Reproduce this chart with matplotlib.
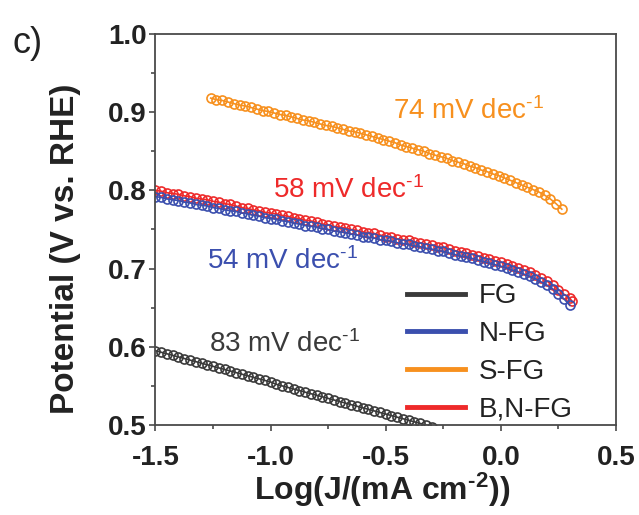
import matplotlib
matplotlib.use("Agg")
import matplotlib.pyplot as plt
from matplotlib.lines import Line2D
from matplotlib.ticker import MultipleLocator

plt.rcParams['font.family'] = ['Liberation Sans', 'DejaVu Sans']
plt.rcParams['mathtext.fontset'] = 'custom'
plt.rcParams['mathtext.rm'] = 'Liberation Sans'
plt.rcParams['mathtext.it'] = 'Liberation Sans:italic'
plt.rcParams['mathtext.bf'] = 'Liberation Sans:bold'

# ---------------- data ----------------
series_names = ["FG", "N-FG", "S-FG", "B,N-FG"]
series_colors = ["#3a3a3a", "#3b4fae", "#f7901e", "#ee2a2a"]

x_fg = [-1.5, -1.475, -1.45, -1.425, -1.4, -1.375, -1.35, -1.325, -1.3, -1.275,
        -1.25, -1.225, -1.2, -1.175, -1.15, -1.125, -1.1, -1.075, -1.05, -1.025,
        -1.0, -0.975, -0.95, -0.925, -0.9, -0.875, -0.85, -0.825, -0.8, -0.775,
        -0.75, -0.725, -0.7, -0.675, -0.65, -0.625, -0.6, -0.575, -0.55, -0.525,
        -0.5, -0.475, -0.45, -0.425, -0.4, -0.375, -0.35, -0.325, -0.3]
y_fg = [0.595, 0.593, 0.591, 0.589, 0.587, 0.585, 0.583, 0.581, 0.579, 0.577,
        0.575, 0.573, 0.571, 0.569, 0.567, 0.565, 0.563, 0.561, 0.559, 0.557,
        0.555, 0.552, 0.550, 0.548, 0.546, 0.544, 0.542, 0.540, 0.538, 0.536,
        0.534, 0.532, 0.530, 0.528, 0.526, 0.524, 0.522, 0.520, 0.518, 0.516,
        0.514, 0.512, 0.510, 0.508, 0.506, 0.504, 0.502, 0.500, 0.498]

x_nfg = [-1.5, -1.475, -1.45, -1.425, -1.4, -1.375, -1.35, -1.325, -1.3, -1.275,
         -1.25, -1.225, -1.2, -1.175, -1.15, -1.125, -1.1, -1.075, -1.05, -1.025,
         -1.0, -0.975, -0.95, -0.925, -0.9, -0.875, -0.85, -0.825, -0.8, -0.775,
         -0.75, -0.725, -0.7, -0.675, -0.65, -0.625, -0.6, -0.575, -0.55, -0.525,
         -0.5, -0.475, -0.45, -0.425, -0.4, -0.375, -0.35, -0.325, -0.3, -0.275,
         -0.25, -0.225, -0.2, -0.175, -0.15, -0.125, -0.1, -0.075, -0.05, -0.025,
         0.0, 0.025, 0.05, 0.075, 0.1, 0.125, 0.15, 0.175, 0.2, 0.225,
         0.25, 0.275, 0.3]
y_nfg = [0.792, 0.791, 0.789, 0.788, 0.787, 0.785, 0.784, 0.782, 0.781, 0.780,
         0.778, 0.777, 0.775, 0.774, 0.773, 0.771, 0.770, 0.768, 0.767, 0.765,
         0.764, 0.763, 0.761, 0.760, 0.758, 0.757, 0.755, 0.754, 0.753, 0.751,
         0.750, 0.748, 0.747, 0.746, 0.744, 0.743, 0.741, 0.740, 0.739, 0.737,
         0.736, 0.735, 0.733, 0.732, 0.731, 0.729, 0.728, 0.726, 0.725, 0.723,
         0.722, 0.720, 0.718, 0.716, 0.715, 0.713, 0.711, 0.709, 0.707, 0.705,
         0.703, 0.701, 0.698, 0.696, 0.693, 0.690, 0.687, 0.683, 0.679, 0.674,
         0.668, 0.661, 0.653]

x_sfg = [-1.26, -1.235, -1.21, -1.185, -1.16, -1.135, -1.11, -1.085, -1.06, -1.035,
         -1.01, -0.985, -0.96, -0.935, -0.91, -0.885, -0.86, -0.835, -0.81, -0.785,
         -0.76, -0.735, -0.71, -0.685, -0.66, -0.635, -0.61, -0.585, -0.56, -0.535,
         -0.51, -0.485, -0.46, -0.435, -0.41, -0.385, -0.36, -0.335, -0.31, -0.285,
         -0.26, -0.235, -0.21, -0.185, -0.16, -0.135, -0.11, -0.085, -0.06, -0.035,
         -0.01, 0.015, 0.04, 0.065, 0.09, 0.115, 0.14, 0.165, 0.19, 0.215,
         0.24, 0.265]
y_sfg = [0.918, 0.916, 0.915, 0.913, 0.911, 0.909, 0.908, 0.906, 0.904, 0.902,
         0.901, 0.899, 0.897, 0.896, 0.894, 0.892, 0.890, 0.889, 0.887, 0.885,
         0.883, 0.882, 0.880, 0.878, 0.876, 0.875, 0.873, 0.871, 0.869, 0.867,
         0.865, 0.863, 0.861, 0.858, 0.856, 0.854, 0.852, 0.850, 0.847, 0.845,
         0.843, 0.841, 0.838, 0.836, 0.834, 0.831, 0.829, 0.826, 0.824, 0.821,
         0.819, 0.816, 0.813, 0.810, 0.807, 0.804, 0.801, 0.798, 0.794, 0.789,
         0.783, 0.776]

x_bnfg = [-1.5, -1.475, -1.45, -1.425, -1.4, -1.375, -1.35, -1.325, -1.3, -1.275,
          -1.25, -1.225, -1.2, -1.175, -1.15, -1.125, -1.1, -1.075, -1.05, -1.025,
          -1.0, -0.975, -0.95, -0.925, -0.9, -0.875, -0.85, -0.825, -0.8, -0.775,
          -0.75, -0.725, -0.7, -0.675, -0.65, -0.625, -0.6, -0.575, -0.55, -0.525,
          -0.5, -0.475, -0.45, -0.425, -0.4, -0.375, -0.35, -0.325, -0.3, -0.275,
          -0.25, -0.225, -0.2, -0.175, -0.15, -0.125, -0.1, -0.075, -0.05, -0.025,
          0.0, 0.025, 0.05, 0.075, 0.1, 0.125, 0.15, 0.175, 0.2, 0.225,
          0.25, 0.275, 0.3, 0.31]
y_bnfg = [0.800, 0.799, 0.797, 0.796, 0.795, 0.793, 0.792, 0.790, 0.789, 0.788,
          0.786, 0.785, 0.783, 0.782, 0.780, 0.778, 0.777, 0.775, 0.774, 0.772,
          0.771, 0.770, 0.768, 0.767, 0.765, 0.764, 0.762, 0.761, 0.759, 0.757,
          0.756, 0.754, 0.753, 0.752, 0.750, 0.749, 0.747, 0.746, 0.745, 0.743,
          0.741, 0.740, 0.738, 0.737, 0.736, 0.734, 0.733, 0.731, 0.730, 0.728,
          0.727, 0.725, 0.723, 0.721, 0.720, 0.718, 0.716, 0.714, 0.712, 0.710,
          0.708, 0.706, 0.703, 0.701, 0.698, 0.695, 0.692, 0.688, 0.684, 0.679,
          0.673, 0.667, 0.662, 0.658]

slope_labels = ["83 mV dec$^{\u20101}$", "54 mV dec$^{\u20101}$",
                "74 mV dec$^{\u20101}$", "58 mV dec$^{\u20101}$"]
slope_label_pos = [(-1.268, 0.604), (-1.276, 0.710), (-0.469, 0.901), (-0.989, 0.801)]

x_ticks = [-1.5, -1.0, -0.5, 0.0, 0.5]
y_ticks = [0.5, 0.6, 0.7, 0.8, 0.9, 1.0]

# ---------------- figure ----------------
fig = plt.figure(figsize=(6.39, 5.15), dpi=100)
ax = fig.add_axes([0.2433, 0.1748, 0.7206, 0.7592])

mk = dict(marker='o', linestyle='-', linewidth=1.2, markersize=6.5, markeredgewidth=1.2,
          markerfacecolor='none')
ax.plot(x_fg, y_fg, color=series_colors[0], **mk)
ax.plot(x_sfg, y_sfg, color=series_colors[2], **mk)
ax.plot(x_bnfg, y_bnfg, color=series_colors[3], **mk)
ax.plot(x_nfg, y_nfg, color=series_colors[1], **mk)

ax.set_xlim(-1.5, 0.5)
ax.set_ylim(0.5, 1.0)
ax.set_xticks(x_ticks)
ax.set_yticks(y_ticks)
ax.set_xticklabels([f"{v:.1f}" for v in x_ticks])
ax.set_yticklabels([f"{v:.1f}" for v in y_ticks])
ax.xaxis.set_minor_locator(MultipleLocator(0.25))
ax.yaxis.set_minor_locator(MultipleLocator(0.05))

for s in ax.spines.values():
    s.set_color('#4a4a4a')
    s.set_linewidth(1.3)

ax.tick_params(which='both', direction='out', top=False, right=False,
               color='#4a4a4a', width=1.2)
ax.tick_params(which='major', length=4.5, labelsize=20)
ax.tick_params(which='minor', length=3)
ax.tick_params(axis='x', which='major', pad=10)
ax.tick_params(axis='y', which='major', pad=2)
for lab in ax.get_xticklabels() + ax.get_yticklabels():
    lab.set_fontweight('bold')
    lab.set_color('#222222')

ax.set_ylabel("Potential (V vs. RHE)", fontsize=24, fontweight='bold', color='#222222')
ax.yaxis.set_label_coords(-0.162, 0.45)
ax.set_xlabel("Log(J/(mA cm$^{\\mathbf{\u20102}}$))", fontsize=23, fontweight='bold',
              color='#222222')
ax.xaxis.set_label_coords(0.493, -0.118)

for txt, (tx, ty), col in zip(slope_labels, slope_label_pos, series_colors):
    ax.text(tx, ty, txt, color=col, fontsize=20, ha='left', va='center')

handles = [Line2D([0], [0], color=c, lw=3.5) for c in series_colors]
leg = ax.legend(handles, series_names, loc='lower left', bbox_to_anchor=(0.503, -0.043),
                frameon=False, fontsize=20, handlelength=2.1, handletextpad=0.5,
                labelspacing=0.42, borderpad=0.2)
for t in leg.get_texts():
    t.set_color('#222222')

fig.text(0.02, 0.915, "c)", fontsize=26, ha='left', va='center', color='#222222')

fig.savefig("out.png", dpi=100)
